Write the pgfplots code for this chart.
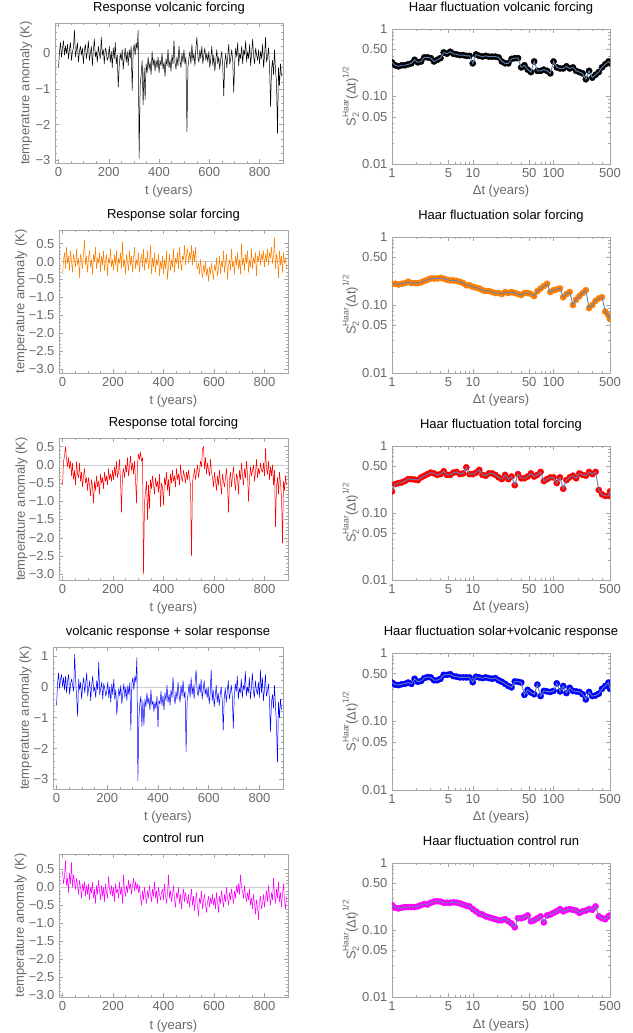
\documentclass[border=0pt]{standalone}
\usepackage{fontspec}
\setmainfont{Liberation Sans}
\usepackage{pgfplots}
\pgfplotsset{compat=1.18}
\usepackage{pgfplotstable}

\definecolor{labgray}{RGB}{105,105,105}
\definecolor{framegray}{RGB}{165,165,165}
\definecolor{mOrange}{RGB}{255,127,0}
\definecolor{mRed}{RGB}{255,0,0}
\definecolor{mBlue}{RGB}{0,0,255}
\definecolor{mMagenta}{RGB}{255,0,255}
\definecolor{haarline}{RGB}{94,129,181}

% time series, one value every ~4 years
\pgfplotstableread[row sep=\\]{y\\
-0.40\\0.05\\0.30\\-0.10\\0.15\\0.35\\-0.05\\0.20\\0.00\\0.25\\-0.15\\0.10\\0.30\\-0.20\\0.05\\0.15\\0.65\\-0.10\\0.10\\0.30\\-0.25\\0.05\\0.20\\-0.05\\0.15\\
-0.30\\0.10\\0.25\\-0.15\\0.05\\0.35\\-0.20\\0.00\\0.20\\-0.35\\0.10\\0.40\\-0.10\\0.05\\-0.25\\0.20\\0.00\\-0.15\\0.45\\-0.05\\0.10\\-0.30\\0.15\\0.05\\-0.20\\
-0.10\\0.20\\-0.25\\0.05\\-0.40\\0.15\\-0.15\\0.30\\-0.30\\-0.05\\-0.95\\-0.35\\0.00\\-0.20\\0.10\\-0.45\\-0.10\\0.15\\-0.25\\0.05\\-0.35\\0.10\\-0.15\\0.20\\-1.05\\
0.05\\0.25\\-0.05\\0.30\\0.10\\0.65\\-2.95\\-0.90\\-0.60\\-0.20\\-1.45\\-0.40\\-1.30\\-0.30\\-0.55\\-0.10\\-0.45\\-0.25\\-0.60\\0.05\\-0.35\\-0.15\\-0.50\\-0.20\\-0.40\\
-0.10\\-0.55\\-0.20\\-0.35\\0.00\\-0.45\\-0.25\\-0.65\\-0.15\\-0.35\\0.10\\-0.40\\-0.20\\-0.50\\-0.05\\-0.30\\0.35\\-0.25\\-0.45\\-0.10\\-0.35\\0.20\\-0.20\\-0.40\\0.00\\
-0.25\\0.10\\-0.30\\-0.10\\-2.20\\-0.40\\-0.15\\0.05\\-0.30\\0.25\\-0.20\\0.00\\-0.35\\0.15\\0.45\\-0.10\\-0.25\\0.10\\-0.15\\0.20\\-0.30\\-0.05\\0.15\\-0.20\\0.00\\
-0.25\\0.05\\-0.40\\-0.15\\0.20\\-0.35\\-0.05\\-0.50\\-0.20\\0.10\\-0.30\\-0.10\\-0.45\\-0.15\\0.05\\-0.35\\-1.20\\-0.25\\0.00\\-0.40\\-0.10\\0.25\\-0.30\\-0.15\\0.10\\
-0.20\\-1.10\\-0.25\\0.15\\-0.10\\0.30\\-0.35\\0.00\\-0.15\\0.20\\-0.30\\0.10\\-0.05\\0.35\\-0.25\\0.05\\-0.15\\0.25\\-0.35\\0.00\\0.40\\-0.10\\-0.30\\0.15\\-0.05\\
-0.20\\0.10\\-0.30\\0.05\\-0.15\\0.25\\-0.40\\-0.05\\0.45\\-0.25\\-0.10\\0.15\\-0.35\\-1.50\\-0.45\\-0.20\\-0.60\\0.10\\-0.50\\-0.80\\-2.25\\-0.40\\-0.90\\-0.30\\-0.65\\
}\tsvol

\pgfplotstableread[row sep=\\]{y\\
-0.35\\0.05\\0.25\\-0.20\\0.40\\-0.05\\0.15\\-0.25\\0.30\\0.00\\-0.30\\0.20\\0.05\\-0.15\\0.35\\-0.10\\0.10\\-0.45\\0.20\\0.05\\-0.20\\0.25\\0.60\\-0.10\\0.15\\
-0.30\\0.10\\0.30\\-0.15\\0.05\\-0.35\\0.20\\0.00\\0.40\\-0.20\\0.10\\-0.05\\0.25\\-0.30\\0.15\\-0.10\\0.30\\-0.25\\0.05\\0.20\\-0.40\\0.10\\-0.05\\0.35\\-0.15\\
0.05\\-0.25\\0.20\\-0.10\\0.30\\-0.30\\0.10\\-0.05\\0.25\\-0.20\\0.55\\-0.15\\0.05\\-0.35\\0.20\\0.00\\-0.25\\0.30\\-0.10\\0.15\\-0.30\\0.10\\0.40\\-0.20\\0.05\\
-0.10\\0.25\\-0.30\\0.05\\0.20\\-0.15\\0.35\\-0.25\\0.10\\-0.05\\0.30\\-0.20\\0.00\\0.45\\-0.35\\0.10\\-0.15\\0.25\\-0.30\\0.05\\-0.10\\0.20\\-0.40\\0.00\\-0.20\\
0.15\\-0.35\\0.05\\-0.20\\0.30\\-0.50\\-0.10\\0.20\\-0.25\\0.05\\-0.15\\0.35\\-0.30\\0.10\\-0.05\\0.25\\-0.20\\0.40\\0.00\\-0.25\\0.15\\0.05\\0.45\\-0.10\\0.20\\
0.35\\-0.05\\0.25\\0.05\\0.45\\-0.10\\0.30\\0.00\\0.40\\-0.15\\-0.20\\-0.05\\-0.35\\0.05\\-0.25\\-0.45\\-0.10\\-0.30\\0.00\\-0.40\\-0.20\\-0.55\\-0.15\\-0.35\\-0.05\\
-0.30\\-0.50\\-0.10\\-0.25\\0.10\\-0.40\\-0.20\\0.15\\-0.35\\0.00\\-0.15\\0.30\\-0.30\\-0.05\\0.20\\-0.50\\-0.10\\0.05\\-0.25\\0.35\\-0.15\\0.00\\-0.35\\0.15\\-0.10\\
0.25\\-0.20\\0.05\\-0.35\\0.50\\-0.10\\0.10\\-0.25\\0.20\\-0.05\\0.30\\-0.30\\0.05\\-0.15\\0.35\\-0.20\\0.10\\-0.05\\0.25\\-0.40\\0.15\\0.00\\0.30\\-0.10\\0.20\\
0.05\\0.30\\-0.15\\0.20\\0.00\\0.35\\-0.10\\0.25\\0.10\\0.40\\-0.05\\0.15\\0.65\\-0.20\\0.20\\0.05\\-0.45\\0.30\\-0.10\\0.15\\-0.30\\0.25\\-0.05\\0.10\\-0.20\\
}\tssol

\pgfplotstableread[row sep=\\]{y\\
-0.55\\0.10\\0.25\\0.50\\0.15\\-0.05\\0.20\\-0.10\\0.10\\-0.30\\0.05\\-0.40\\-0.15\\-0.55\\0.10\\-0.25\\-0.35\\0.05\\-0.45\\-0.20\\-0.60\\-0.30\\-0.10\\-0.50\\-0.35\\
-0.70\\-0.35\\-0.55\\-0.85\\-0.40\\-0.60\\-1.05\\-0.45\\-0.70\\-0.30\\-0.60\\-0.45\\-0.80\\-0.25\\-0.50\\-0.35\\-0.65\\-0.20\\-0.45\\-0.30\\-0.55\\-0.10\\-0.40\\-0.25\\-0.45\\
-0.15\\-0.40\\-0.05\\-0.30\\0.10\\-0.35\\-0.20\\0.15\\-0.45\\-1.30\\-0.25\\-0.10\\-0.35\\0.00\\-0.20\\0.20\\-0.30\\-0.05\\0.25\\-0.15\\0.05\\-0.25\\0.10\\-0.40\\-1.05\\
0.05\\0.30\\0.15\\0.35\\0.10\\0.20\\-3.00\\-1.00\\-0.75\\-0.45\\-1.50\\-0.55\\-1.20\\-0.40\\-0.65\\-0.30\\-0.55\\-0.80\\-0.35\\-0.60\\-0.45\\-0.75\\-0.25\\-1.15\\-0.50\\
-0.60\\-1.10\\-0.35\\-0.55\\-0.20\\-0.70\\-0.40\\-0.85\\-0.25\\-0.50\\-0.15\\-0.45\\-0.30\\-0.60\\-0.10\\-0.40\\-0.25\\-0.55\\0.00\\-0.35\\-0.45\\-0.15\\-0.30\\-0.50\\-0.20\\
-0.40\\-0.15\\-0.35\\-0.55\\-2.50\\-0.45\\-0.30\\-0.10\\-0.40\\-0.20\\0.00\\-0.35\\-0.15\\0.10\\-0.05\\0.45\\0.50\\-0.10\\0.20\\-0.25\\0.05\\-0.15\\-0.30\\0.15\\-0.20\\
-0.35\\-0.60\\-0.20\\-0.45\\-0.70\\-0.30\\-0.55\\-0.15\\-0.50\\-0.80\\-0.25\\-0.45\\-0.60\\-0.35\\-0.10\\-0.55\\-1.30\\-0.40\\-0.20\\-0.60\\-0.30\\-0.05\\-0.45\\-0.70\\-0.25\\
-0.35\\-0.80\\-0.15\\-0.40\\0.05\\-0.30\\-0.55\\-0.10\\-0.35\\0.10\\-0.25\\-1.00\\-0.40\\-0.05\\-0.30\\-0.15\\0.00\\-0.45\\-0.20\\0.15\\-0.35\\-0.10\\-0.25\\0.05\\-0.15\\
-0.20\\0.05\\-0.30\\0.45\\-0.10\\-0.25\\0.10\\-0.40\\-0.05\\-0.30\\0.00\\-0.55\\-0.15\\-1.70\\-0.60\\-0.35\\-0.80\\-0.20\\-0.50\\-0.90\\-2.15\\-0.45\\-0.70\\-0.30\\-0.55\\
}\tstot

\pgfplotstableread[row sep=\\]{y\\
-0.60\\0.10\\0.45\\-0.05\\0.25\\0.40\\0.00\\0.30\\-0.10\\0.35\\-0.20\\0.20\\0.40\\-0.25\\0.10\\0.25\\0.05\\-0.15\\1.05\\0.20\\-0.30\\-0.95\\0.25\\-0.10\\0.15\\
-0.40\\0.05\\0.30\\-0.20\\0.10\\0.45\\-0.30\\-0.05\\0.20\\-0.45\\0.05\\0.35\\-0.15\\0.00\\-0.35\\0.20\\-0.10\\0.80\\-0.25\\-0.05\\0.15\\-0.40\\0.10\\-0.05\\-0.30\\
-0.15\\0.15\\-0.35\\0.00\\-0.50\\0.10\\-0.25\\0.25\\-0.40\\-0.10\\-0.90\\-0.45\\-0.05\\-0.30\\0.05\\-0.55\\-0.20\\0.10\\-0.35\\0.00\\-0.45\\0.05\\-0.25\\0.15\\-1.40\\
0.10\\0.30\\-0.10\\0.35\\0.15\\0.95\\-3.05\\-1.00\\-0.55\\-0.30\\-1.30\\-0.45\\-1.25\\-0.40\\-0.65\\-0.20\\-0.55\\-0.35\\-0.75\\-0.10\\-0.60\\-0.45\\-0.80\\-0.50\\-0.70\\
-0.30\\-1.30\\-0.45\\-0.55\\-0.15\\-0.60\\-0.30\\-0.75\\-0.20\\-0.45\\0.05\\-0.50\\-0.25\\-0.60\\-0.10\\-0.35\\0.30\\-0.30\\-0.55\\-0.15\\-0.40\\0.15\\-0.25\\-0.50\\0.05\\
-0.30\\0.20\\-0.35\\-0.15\\-2.10\\-0.50\\-0.20\\0.10\\-0.35\\0.30\\-0.25\\0.05\\-0.40\\0.15\\0.55\\-0.15\\-0.30\\0.10\\-0.20\\0.25\\-0.40\\-0.10\\0.20\\-0.25\\-0.05\\
-0.35\\0.00\\-0.55\\-0.20\\0.55\\-0.45\\-0.10\\-0.65\\-0.30\\0.05\\-0.50\\-0.20\\-0.60\\-0.25\\0.00\\-0.45\\-1.40\\-0.35\\-0.05\\-0.50\\-0.15\\0.20\\-0.40\\-0.20\\0.05\\
-0.30\\-1.35\\-0.30\\0.10\\-0.15\\0.35\\-0.40\\-0.05\\-0.20\\0.25\\-0.35\\0.05\\-0.10\\0.50\\-0.30\\0.00\\-0.20\\0.30\\-0.40\\-0.05\\0.45\\-0.15\\-0.35\\0.20\\-0.10\\
-0.25\\0.15\\-0.35\\0.55\\-0.20\\0.30\\-0.45\\-0.10\\0.40\\-0.30\\-0.15\\0.10\\-0.40\\-1.45\\-0.50\\-0.25\\-0.70\\0.05\\-0.60\\-1.25\\-2.45\\-0.50\\-1.00\\-0.40\\-0.75\\
}\tssum

\pgfplotstableread[row sep=\\]{y\\
0.45\\0.10\\0.30\\0.75\\0.05\\0.25\\-0.15\\0.40\\0.10\\0.70\\0.00\\0.35\\0.15\\-0.05\\0.25\\0.05\\-0.20\\0.20\\0.00\\-0.30\\0.10\\-0.10\\0.15\\-0.25\\0.05\\
-0.20\\0.10\\-0.35\\0.00\\-0.15\\0.15\\-0.30\\-0.05\\-0.45\\0.05\\-0.20\\0.20\\-0.10\\-0.35\\0.05\\-0.25\\0.00\\-0.40\\0.10\\-0.15\\-0.30\\0.30\\-0.05\\-0.20\\0.05\\
-0.25\\0.00\\-0.40\\0.10\\-0.15\\-0.05\\-0.30\\0.15\\-0.20\\0.00\\-0.45\\0.35\\-0.10\\-0.25\\0.05\\-0.15\\0.20\\-0.05\\0.10\\-0.20\\0.05\\0.25\\-0.10\\0.15\\-0.05\\
0.10\\-0.15\\0.05\\-0.30\\-0.50\\-0.10\\-0.35\\0.00\\-0.25\\-0.45\\-0.10\\-0.30\\0.05\\-0.20\\-0.40\\-0.05\\-0.25\\0.15\\-0.30\\-0.10\\-0.45\\0.00\\-0.20\\-0.35\\-0.15\\
-0.05\\-0.35\\0.10\\-0.25\\-0.45\\-0.15\\0.35\\-0.30\\-0.10\\-0.40\\-0.20\\0.05\\-0.35\\-0.55\\-0.15\\-0.30\\0.00\\-0.45\\-0.20\\-0.60\\-0.25\\-0.05\\-0.40\\-0.15\\-0.30\\
-0.45\\-0.20\\-0.55\\-0.30\\-0.05\\-0.50\\-0.25\\-0.65\\-0.35\\-0.15\\-0.55\\-0.80\\-0.30\\-0.45\\-0.10\\-0.60\\-0.35\\-0.20\\-0.50\\-0.70\\-0.40\\-0.25\\-0.55\\-0.30\\-0.45\\
-0.20\\-0.50\\-0.30\\-0.60\\-0.15\\-0.40\\-0.70\\-0.25\\-0.45\\-0.10\\-0.35\\-0.55\\-0.20\\-0.40\\0.00\\-0.30\\-0.50\\-0.15\\-0.35\\-0.05\\-0.25\\-0.45\\-0.10\\-0.30\\0.05\\
-0.15\\0.10\\-0.20\\0.35\\0.00\\-0.10\\-0.30\\0.05\\-0.25\\-0.40\\-0.15\\-0.35\\-0.05\\-0.50\\-0.30\\-0.60\\-0.20\\-0.45\\-0.75\\-0.35\\-0.55\\-0.90\\-0.40\\-0.25\\-0.60\\
-0.45\\-0.20\\-0.55\\-0.30\\-0.10\\-0.40\\0.05\\-0.25\\-0.50\\-0.15\\-0.35\\0.25\\-0.20\\-0.45\\-0.05\\-0.30\\0.15\\-0.40\\-0.15\\-0.55\\-0.20\\0.10\\-0.35\\-0.60\\-0.25\\
}\tsctl

% Haar fluctuations
\pgfplotstableread{
dt vol sol tot sum ctl
1 0.32 0.205 0.21 0.37 0.235
1.096 0.29 0.205 0.27 0.345 0.215
1.202 0.28 0.20 0.28 0.34 0.21
1.318 0.29 0.205 0.285 0.35 0.215
1.445 0.29 0.21 0.30 0.355 0.22
1.585 0.30 0.22 0.32 0.37 0.22
1.738 0.31 0.21 0.32 0.355 0.22
1.905 0.35 0.21 0.315 0.42 0.22
2.089 0.32 0.21 0.31 0.38 0.225
2.291 0.33 0.215 0.34 0.39 0.235
2.512 0.38 0.225 0.36 0.43 0.245
2.754 0.38 0.235 0.38 0.445 0.24
3.020 0.37 0.245 0.40 0.44 0.255
3.311 0.33 0.245 0.39 0.40 0.265
3.631 0.35 0.245 0.37 0.40 0.27
3.981 0.37 0.25 0.38 0.42 0.265
4.365 0.45 0.245 0.42 0.48 0.255
4.786 0.43 0.235 0.37 0.48 0.255
5.248 0.46 0.23 0.37 0.49 0.255
5.754 0.43 0.23 0.40 0.46 0.26
6.310 0.42 0.225 0.41 0.45 0.255
6.918 0.41 0.22 0.38 0.44 0.25
7.586 0.41 0.21 0.39 0.44 0.24
8.318 0.40 0.195 0.48 0.44 0.23
9.120 0.40 0.195 0.38 0.44 0.225
10 0.31 0.185 0.38 0.375 0.205
10.96 0.42 0.18 0.40 0.45 0.19
12.02 0.40 0.175 0.44 0.44 0.175
13.18 0.39 0.165 0.37 0.43 0.17
14.45 0.40 0.16 0.36 0.44 0.16
15.85 0.39 0.16 0.39 0.43 0.155
17.38 0.39 0.155 0.39 0.42 0.15
19.05 0.39 0.15 0.37 0.43 0.145
20.89 0.38 0.15 0.34 0.40 0.14
22.91 0.33 0.145 0.32 0.38 0.14
25.12 0.31 0.155 0.37 0.355 0.145
27.54 0.31 0.15 0.32 0.33 0.135
30.20 0.36 0.155 0.35 0.315 0.125
33.11 0.37 0.15 0.26 0.385 0.11
36.31 0.37 0.145 0.38 0.38 0.15
39.81 0.27 0.14 0.33 0.37 0.15
43.65 0.29 0.15 0.33 0.245 0.155
47.86 0.25 0.15 0.35 0.29 0.165
52.48 0.23 0.145 0.39 0.265 0.135
57.54 0.33 0.135 0.35 0.25 0.14
63.10 0.24 0.16 0.37 0.345 0.15
69.18 0.24 0.175 0.41 0.235 0.16
75.86 0.25 0.19 0.30 0.28 0.13
83.18 0.24 0.205 0.32 0.275 0.165
91.20 0.22 0.155 0.34 0.27 0.17
100 0.33 0.165 0.34 0.28 0.18
109.6 0.27 0.17 0.28 0.36 0.19
120.2 0.26 0.175 0.34 0.275 0.205
131.8 0.26 0.13 0.23 0.33 0.19
144.5 0.28 0.145 0.31 0.26 0.20
158.5 0.26 0.155 0.34 0.31 0.205
173.8 0.27 0.10 0.36 0.28 0.20
190.5 0.24 0.12 0.33 0.275 0.195
208.9 0.23 0.135 0.39 0.27 0.18
229.1 0.22 0.15 0.37 0.25 0.19
251.2 0.18 0.165 0.36 0.21 0.195
275.4 0.24 0.09 0.41 0.27 0.205
302.0 0.19 0.10 0.38 0.235 0.20
331.1 0.21 0.115 0.41 0.24 0.225
363.1 0.23 0.125 0.22 0.255 0.16
398.1 0.27 0.13 0.19 0.30 0.15
436.5 0.30 0.08 0.18 0.33 0.145
478.6 0.33 0.07 0.18 0.37 0.16
500 0.31 0.062 0.21 0.30 0.165
}\haar

\pgfplotsset{
  frame/.style={
    scale only axis,
    clip marker paths=true,
    axis line style={draw=framegray, line width=0.5pt},
    every tick/.style={draw=framegray, line width=0.5pt},
    tick align=inside,
    major tick length=4pt, minor tick length=2.2pt,
    tick label style={text=labgray},
    label style={text=labgray},
    title style={text=black, at={(0.5,1)}, anchor=south, inner sep=0pt, text depth=3pt},
  },
  ts/.style={
    frame,
    xmin=-14, xmax=893,
    xtick={0,200,400,600,800}, xticklabels={0,200,400,600,800},
    minor x tick num=3, minor y tick num=4,
    xlabel={t (years)},
    xlabel style={at={([yshift=-32pt]axis description cs:0.5,0)}, anchor=base},
    ylabel={temperature anomaly (K)},
    title style={yshift=2pt},
    extra y ticks={0}, extra y tick labels={},
    extra y tick style={grid=major, major grid style={draw=gray!40, line width=0.5pt}, major tick length=0pt},
  },
  tsdec/.style={
    ytick={-3,-2.5,-2,-1.5,-1,-0.5,0,0.5},
    yticklabels={−3.0,−2.5,−2.0,−1.5,−1.0,−0.5,0.0,0.5},
  },
  tsint/.style={
    ytick={-3,-2,-1,0,1},
    yticklabels={−3,−2,−1,0,1},
  },
  haar/.style={
    frame,
    xmin=1, xmax=500, ymin=0.01, ymax=1,
    width=218pt,
    xtick={1,5,10,50,100,500}, xticklabels={1,5,10,50,100,500},
    ytick={0.01,0.05,0.1,0.5,1}, yticklabels={0.01,0.05,0.10,0.50,1},
    minor xtick={2,3,4,6,7,8,9,20,30,40,60,70,80,90,200,300,400},
    minor ytick={0.02,0.03,0.04,0.06,0.07,0.08,0.09,0.2,0.3,0.4,0.6,0.7,0.8,0.9},
    xlabel={Δt (years)},
    xlabel style={at={([yshift=-31pt]axis description cs:0.5,0)}, anchor=base},
    ylabel={S\rlap{\raisebox{-0.5ex}{\fontsize{9}{9}\selectfont 2}}\raisebox{1.0ex}{\fontsize{8.5}{9}\selectfont Haar}(Δt)\raisebox{1.0ex}{\fontsize{8.5}{9}\selectfont 1/2}},
    ylabel style={at={([xshift=-36.5pt]axis description cs:0,0.5)}, anchor=base},
    title style={yshift=8pt},
  },
  tsline/.style={line width=0.5pt, line join=round},
  hmark/.style={only marks, mark=*, mark size=3.1pt, mark options={draw=#1, fill=#1}},
  hline/.style={haarline, line width=0.9pt},
}

\begin{document}
\fontsize{13}{15.6}\selectfont
\begin{tikzpicture}
\path[use as bounding box] (0,0) rectangle (632pt,1033pt);

% ---- row 1
\begin{axis}[ts, tsint, at={(55pt,870pt)}, anchor=south west,
  width=228pt, height=140pt, ymin=-3.08, ymax=0.85,
  title={Response volcanic forcing},
  ylabel style={at={([xshift=-25.7pt]axis description cs:0,0.5)}, anchor=base}]
\addplot[tsline, black] table[x expr=\coordindex*3.96, y=y] {\tsvol};
\end{axis}
\begin{loglogaxis}[haar, at={(392pt,869pt)}, anchor=south west, height=135pt,
  title={Haar fluctuation volcanic forcing}]
\addplot[hmark=black] table[x=dt, y=vol] {\haar};
\addplot[hline] table[x=dt, y=vol] {\haar};
\end{loglogaxis}

% ---- row 2
\begin{axis}[ts, tsdec, at={(59pt,660pt)}, anchor=south west,
  width=229pt, height=143pt, ymin=-3.11, ymax=0.88,
  title={Response solar forcing},
  ylabel style={at={([xshift=-34.7pt]axis description cs:0,0.5)}, anchor=base}]
\addplot[tsline, mOrange] table[x expr=\coordindex*3.96, y=y] {\tssol};
\end{axis}
\begin{loglogaxis}[haar, at={(392pt,660pt)}, anchor=south west, height=136pt,
  title={Haar fluctuation solar forcing}]
\addplot[hmark=mOrange] table[x=dt, y=sol] {\haar};
\addplot[hline] table[x=dt, y=sol] {\haar};
\end{loglogaxis}

% ---- row 3
\begin{axis}[ts, tsdec, at={(59pt,453pt)}, anchor=south west,
  width=229pt, height=142pt, ymin=-3.16, ymax=0.74,
  title={Response total forcing},
  ylabel style={at={([xshift=-34pt]axis description cs:0,0.5)}, anchor=base}]
\addplot[tsline, mRed] table[x expr=\coordindex*3.96, y=y] {\tstot};
\end{axis}
\begin{loglogaxis}[haar, at={(392pt,453pt)}, anchor=south west, height=134pt,
  title={Haar fluctuation total forcing}]
\addplot[hmark=mRed] table[x=dt, y=tot] {\haar};
\addplot[hline] table[x=dt, y=tot] {\haar};
\end{loglogaxis}

% ---- row 4
\begin{axis}[ts, tsint, at={(53pt,244pt)}, anchor=south west,
  width=230pt, height=142pt, ymin=-3.31, ymax=1.29,
  title={volcanic response + solar response},
  ylabel style={at={([xshift=-24pt]axis description cs:0,0.5)}, anchor=base}]
\addplot[tsline, mBlue] table[x expr=\coordindex*3.96, y=y] {\tssum};
\end{axis}
\begin{loglogaxis}[haar, at={(392pt,243pt)}, anchor=south west, height=137pt,
  title={Haar fluctuation solar+volcanic response}]
\addplot[hmark=mBlue] table[x=dt, y=sum] {\haar};
\addplot[hline] table[x=dt, y=sum] {\haar};
\end{loglogaxis}

% ---- row 5
\begin{axis}[ts, tsdec, at={(59pt,36pt)}, anchor=south west,
  width=229pt, height=143pt, ymin=-3.06, ymax=0.93,
  title={control run},
  ylabel style={at={([xshift=-35pt]axis description cs:0,0.5)}, anchor=base}]
\addplot[tsline, mMagenta] table[x expr=\coordindex*3.96, y=y] {\tsctl};
\end{axis}
\begin{loglogaxis}[haar, at={(392pt,36pt)}, anchor=south west, height=134pt,
  title={Haar fluctuation control run}]
\addplot[hmark=mMagenta] table[x=dt, y=ctl] {\haar};
\addplot[hline] table[x=dt, y=ctl] {\haar};
\end{loglogaxis}
\end{tikzpicture}
\end{document}
